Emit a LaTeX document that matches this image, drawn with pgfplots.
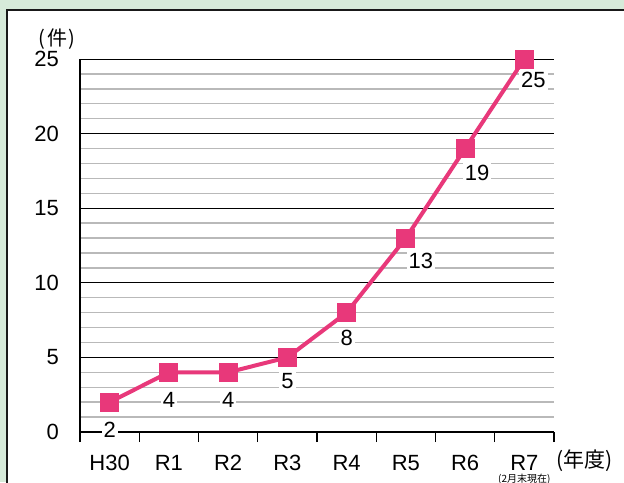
\documentclass[border=0pt]{standalone}
\usepackage{pgfplots}
\pgfplotsset{compat=1.18}
\usepackage{fontspec}
\setmainfont{Liberation Sans}
\newfontfamily\cjk{Noto Sans CJK JP}
\definecolor{bggreen}{RGB}{214,234,217}
\definecolor{lpink}{RGB}{232,56,122}
\definecolor{mgrid}{RGB}{185,185,185}
\pgfplotstableread{
x y dx dy
0 2 0 -14
1 4 0 -14
2 4 0 -14
3 5 0 -12
4 8 0 -12.5
5 13 7.5 -11.5
6 19 6 -12
7 25 4.5 -10.5
}\datatab
\begin{document}
\begin{tikzpicture}
\clip (0,0) rectangle (312pt,241pt);
\fill[bggreen] (0,0) rectangle (312pt,241pt);
\filldraw[fill=white, draw=black!90, line width=1pt] (3.5pt,-10pt) rectangle (330pt,236pt);
\node[anchor=center, inner sep=0pt, font=\cjk\fontsize{10}{12}\selectfont] at (28.5pt,221.5pt) {(\kern0.8pt 件\kern0.8pt)};
\node[anchor=west, inner sep=0pt, font=\cjk\fontsize{10.5}{12}\selectfont] at (278pt,10.5pt) {(年度)};
\begin{axis}[
  at={(40pt,25pt)}, anchor=south west,
  scale only axis, width=237pt, height=186.5pt,
  xmin=-0.5, xmax=7.5, ymin=0, ymax=25,
  axis x line=bottom, axis y line=left,
  axis line style={-, black, line width=0.6pt},
  tick align=outside,
  xtick={-0.5,0.5,...,7.5}, xticklabels={},
  major tick length=5pt,
  x tick style={black, line width=0.6pt},
  extra x ticks={0,1,2,3,4,5,6,7},
  extra x tick labels={H30,R1,R2,R3,R4,R5,R6,{R7\\[-6pt]{\cjk\fontsize{5}{6}\selectfont (2月末現在)}}},
  extra x tick style={major tick length=0pt, grid=none, xticklabel style={anchor=north, align=center, yshift=-8pt, font=\fontsize{11}{12}\selectfont}},
  ytick={0,5,10,15,20,25},
  minor ytick={1,2,3,4,6,7,8,9,11,12,13,14,16,17,18,19,21,22,23,24},
  minor tick length=0pt,
  y tick style={draw=none},
  ymajorgrids, yminorgrids,
  major grid style={black, line width=0.5pt},
  minor grid style={mgrid, line width=0.7pt},
  yticklabel style={font=\fontsize{11}{12}\selectfont, xshift=-2pt},
  /pgf/number format/assume math mode=true,
  clip=false,
]
\addplot[lpink, line width=2pt, mark=square*, mark size=4.5pt,
  mark options={solid, fill=lpink, draw=lpink, line width=0pt},
  visualization depends on={\thisrow{dx} \as \dx},
  visualization depends on={\thisrow{dy} \as \dy},
  nodes near coords,
  nodes near coords style={anchor=center, fill=white, inner sep=1pt, text=black,
    font=\fontsize{11}{12}\selectfont, xshift=\dx pt, yshift=\dy pt}
] table[x=x, y=y] {\datatab};
\end{axis}
\end{tikzpicture}
\end{document}
